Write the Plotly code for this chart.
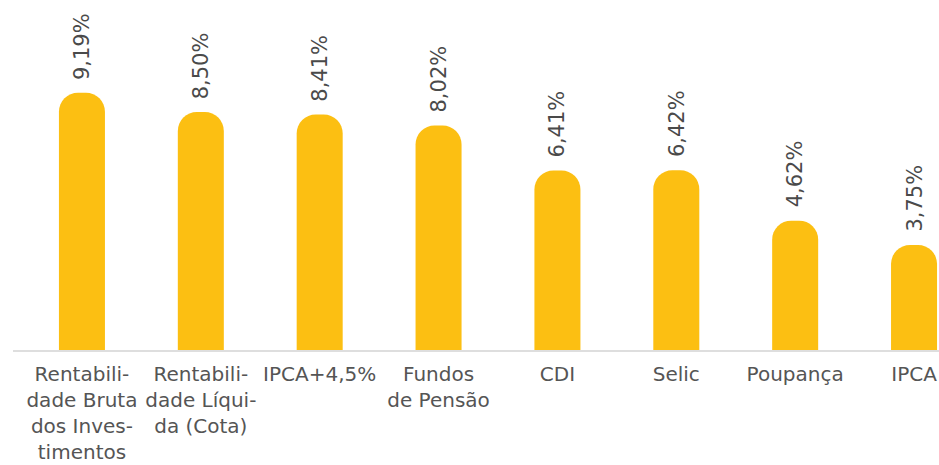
import plotly.graph_objects as go

# Retornos acumulados por indicador
categories = [
    "Rentabilidade Bruta dos Investimentos",
    "Rentabilidade Líquida (Cota)",
    "IPCA+4,5%",
    "Fundos de Pensão",
    "CDI",
    "Selic",
    "Poupança",
    "IPCA",
]
values = [9.19, 8.50, 8.41, 8.02, 6.41, 6.42, 4.62, 3.75]
value_labels = ["9,19%", "8,50%", "8,41%", "8,02%", "6,41%", "6,42%", "4,62%", "3,75%"]
tick_labels = [
    "Rentabili-<br>dade Bruta<br>dos Inves-<br>timentos",
    "Rentabili-<br>dade Líqui-<br>da (Cota)",
    "IPCA+4,5%",
    "Fundos<br>de Pensão",
    "CDI",
    "Selic",
    "Poupança",
    "IPCA",
]

BAR_COLOR = "#FCBF12"
FONT = "DejaVu Sans"

fig = go.Figure(
    go.Bar(
        x=categories,
        y=values,
        width=0.387,
        marker=dict(color=BAR_COLOR, line=dict(width=0), cornerradius=19),
        hoverinfo="skip",
    )
)

# Rotated value labels sitting above each bar
for cat, val, lab in zip(categories, values, value_labels):
    fig.add_annotation(
        x=cat,
        y=val,
        text=lab,
        textangle=-90,
        showarrow=False,
        xanchor="center",
        yanchor="bottom",
        yshift=11,
        font=dict(family=FONT, size=21, color="#4a4a4a"),
    )

fig.update_layout(
    width=939,
    height=465,
    margin=dict(l=13, r=0, t=0, b=115),
    paper_bgcolor="white",
    plot_bgcolor="white",
    showlegend=False,
    font=dict(family=FONT, size=20, color="#555555"),
)

fig.update_xaxes(
    type="category",
    range=[-0.58, 7.21],
    tickmode="array",
    tickvals=categories,
    ticktext=tick_labels,
    tickangle=0,
    ticks="",
    ticklabelstandoff=5,
    automargin=False,
    showgrid=False,
    zeroline=False,
    showline=True,
    linecolor="#dedede",
    linewidth=2,
    tickfont=dict(family=FONT, size=20, color="#555555"),
)

fig.update_yaxes(
    range=[0, 12.5],
    visible=False,
    showgrid=False,
    zeroline=False,
    automargin=False,
)

fig.write_html("out.html")
